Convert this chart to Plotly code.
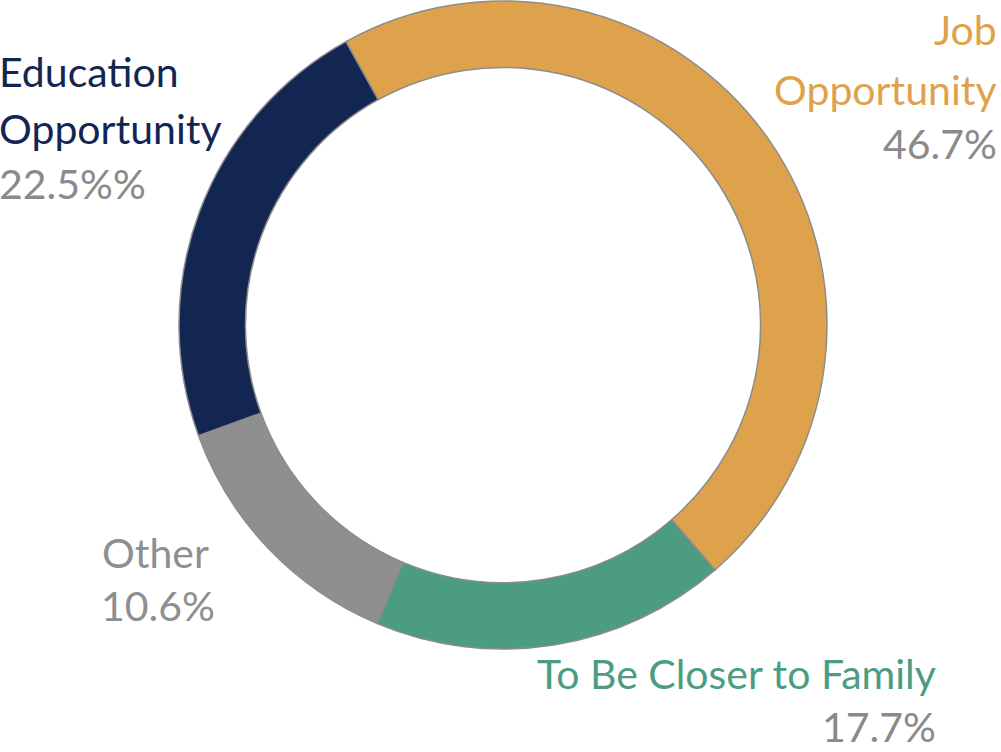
import plotly.graph_objects as go

categories = ["Job Opportunity", "To Be Closer to Family", "Other", "Education Opportunity"]
values = [46.7, 17.7, 13.1, 22.5]
pct_labels = ["46.7%", "17.7%", "10.6%", "22.5%%"]
colors = ["#DFA24C", "#4C9C82", "#8F8F8F", "#132652"]
pct_color = "#8A8A8A"

W, H = 1001, 752
cx, cy, R = 503, 325, 324

fig = go.Figure(go.Pie(
    labels=categories, values=values, sort=False, direction="clockwise",
    rotation=-29, hole=0.795, textinfo="none", hoverinfo="label+percent",
    marker=dict(colors=colors, line=dict(color="#8C8C8C", width=1.5)),
    domain=dict(x=[(cx - R) / W, (cx + R) / W], y=[(H - cy - R) / H, (H - cy + R) / H]),
    showlegend=False,
))

FONT = "Lato"
FS = 41

def ann(text, x, y, color, anchor, yanchor="middle", align="center"):
    fig.add_annotation(text=text, x=x / W, y=1 - y / H, xref="paper", yref="paper",
                       xanchor=anchor, yanchor=yanchor, showarrow=False, align=align,
                       borderpad=0,
                       font=dict(family=FONT, size=FS, color=color))

# Job Opportunity
ann("Job", 998, 30, colors[0], "right")
ann("Opportunity", 998, 90, colors[0], "right")
ann(pct_labels[0], 998, 144, pct_color, "right")
# Education Opportunity
ann("Education", -2, 72, colors[3], "left")
ann("Opportunity", -2, 128, colors[3], "left")
ann(pct_labels[3], -2, 183, pct_color, "left")
# Other
ann("Other", 155, 552, colors[2], "center")
ann(pct_labels[2], 158, 605, colors[2], "center")
# Family (two lines in one text block)
ann(categories[1] + "<br><span style='color:%s'>%s</span>" % (pct_color, pct_labels[1]),
    937, 752, colors[1], "right", "bottom", "right")

fig.update_layout(width=W, height=H, margin=dict(l=0, r=0, t=0, b=0),
                  paper_bgcolor="white", plot_bgcolor="white")
fig.write_html("out.html", config={"displayModeBar": False},
               post_script="document.body.style.margin='0';document.body.style.overflow='hidden';")
